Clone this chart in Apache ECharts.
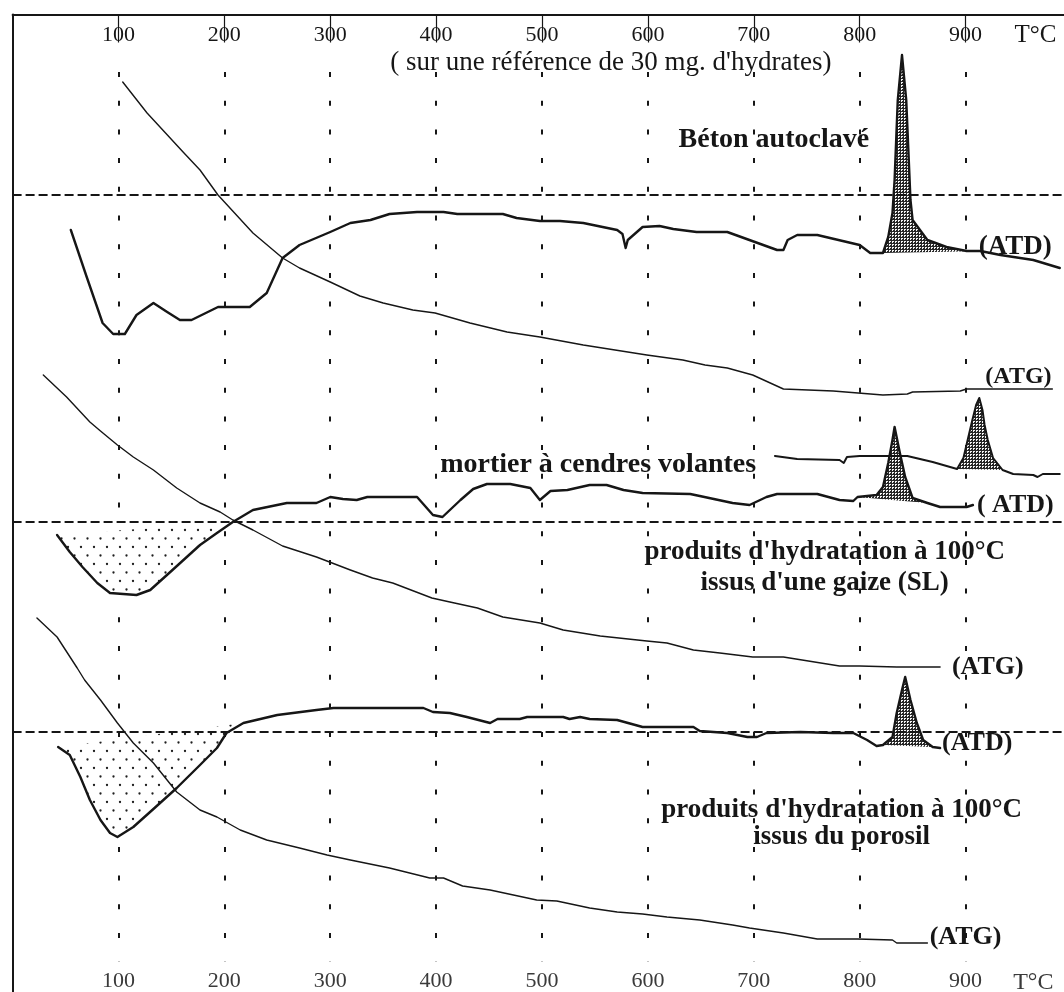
<!DOCTYPE html>
<html lang="fr">
<head>
<meta charset="utf-8">
<title>ATD / ATG</title>
<script src="https://cdn.jsdelivr.net/npm/echarts@6.0.0/dist/echarts.min.js"></script>
<style>
  html, body { margin: 0; padding: 0; background: #ffffff; }
  #chart { width: 1064px; height: 992px; }
</style>
</head>
<body>
<div id="chart"></div>
<script>
// ---------------------------------------------------------------------------
// Data: temperature (°C) against an arbitrary vertical signal scale (u.a.).
// Each trace is a list of [temperature, signal] readings.
// ---------------------------------------------------------------------------
const tempTicks = [100, 200, 300, 400, 500, 600, 700, 800, 900];

// Béton autoclavé
const atgBeton = [[104,91.0],[127,87.9],[161,84.0],[177,82.2],[194,79.7],[227,75.9],[255,73.4],[271,72.4],[300,71.0],[328,69.6],[350,68.9],[378,68.2],[399,67.9],[432,66.9],[467,66.0],[498,65.5],[539,64.7],[599,63.7],[633,63.2],[654,62.7],[675,62.4],[699,61.7],[728,60.3],[775,60.1],[822,59.7],[845,59.8],[850,60.0],[895,60.1],[901,60.3],[982,60.3]];
const atdBeton = [[55,76.2],[70,71.5],[85,66.9],[95,65.8],[106,65.8],[117,67.7],[133,68.9],[146,68.0],[158,67.2],[169,67.2],[194,68.5],[224,68.5],[240,69.9],[255,73.4],[271,74.7],[300,76.0],[319,76.9],[338,77.2],[356,77.8],[382,78.0],[407,78.0],[420,77.8],[463,77.8],[476,77.4],[498,77.1],[517,77.1],[539,76.9],[571,76.2],[576,75.8],[579,74.4],[581,75.2],[595,76.5],[611,76.6],[624,76.3],[646,76.0],[675,76.0],[722,74.2],[728,74.2],[732,75.2],[741,75.7],[760,75.7],[800,74.7],[810,73.9],[822,73.9],[827,75.5],[831,77.9],[833,81.2],[836,89.2],[840,93.7],[844,89.2],[848,79.2],[850,77.2],[864,75.2],[882,74.5],[901,74.1],[914,74.1],[933,73.7],[964,73.2],[989,72.4]];

// Mortier à cendres volantes (branche haute au-delà de 720 °C)
const atdMortier = [[720,53.6],[741,53.3],[781,53.2],[785,52.9],[788,53.5],[800,53.6],[845,53.6],[869,53.0],[892,52.3],[898,53.4],[902,55.2],[906,57.0],[910,58.7],[913,59.4],[916,58.2],[918,56.7],[921,55.2],[926,53.4],[935,52.2],[945,51.8],[964,51.7],[968,51.5],[973,51.8],[989,51.8]];

// Produits d'hydratation à 100 °C issus d'une gaize (SL)
const atdGaize = [[42,45.7],[54,44.0],[66,42.5],[80,40.9],[92,39.9],[117,39.7],[130,40.2],[151,42.2],[177,44.7],[193,45.9],[208,47.0],[227,48.2],[259,48.9],[287,48.9],[300,49.5],[312,49.3],[325,49.2],[335,49.5],[382,49.5],[397,47.7],[406,47.5],[423,49.2],[435,50.3],[448,50.8],[470,50.8],[489,50.4],[498,49.2],[508,50.1],[524,50.2],[545,50.7],[561,50.7],[577,50.2],[595,49.9],[640,49.8],[649,49.6],[680,48.9],[696,48.7],[712,49.5],[722,49.8],[760,49.8],[781,49.2],[794,49.1],[798,49.5],[816,49.7],[822,50.5],[827,52.9],[831,55.2],[833,56.5],[838,53.9],[843,51.5],[850,49.4],[864,48.9],[876,48.5],[901,48.5],[907,48.7]];
const atgGaize = [[29,61.7],[51,59.5],[73,57.0],[83,56.1],[99,54.7],[114,53.5],[133,52.2],[155,50.4],[177,48.9],[196,48.0],[208,47.2],[227,46.2],[255,44.6],[287,43.5],[319,42.2],[340,41.4],[359,40.9],[396,39.4],[413,39.0],[439,38.4],[463,37.5],[498,36.9],[520,36.2],[555,35.6],[599,35.1],[618,34.9],[643,34.2],[668,33.9],[699,33.5],[728,33.5],[781,32.6],[800,32.6],[835,32.5],[876,32.5]];

// Produits d'hydratation à 100 °C issus du porosil
const atdPorosil = [[43,24.5],[54,23.7],[64,21.5],[73,19.2],[83,17.2],[92,15.9],[99,15.5],[114,16.5],[133,18.3],[155,20.4],[177,22.7],[193,24.4],[202,25.9],[218,26.9],[250,27.7],[287,28.2],[303,28.4],[350,28.4],[388,28.4],[397,28.0],[413,27.9],[429,27.5],[451,26.9],[458,27.3],[479,27.3],[486,27.5],[520,27.5],[526,27.3],[536,27.5],[545,27.3],[571,27.2],[595,26.5],[643,26.5],[649,26.1],[675,25.9],[694,25.5],[703,25.5],[712,25.9],[744,26.0],[775,25.9],[794,25.9],[807,25.2],[816,24.6],[822,24.7],[831,25.5],[835,27.9],[840,30.2],[843,31.5],[848,29.2],[854,26.9],[860,25.2],[869,24.5],[876,24.4]];
const atgPorosil = [[23,37.4],[42,35.5],[61,32.4],[68,31.2],[83,29.2],[99,26.9],[114,24.9],[133,22.9],[155,20.0],[177,18.2],[193,17.5],[215,16.2],[240,15.2],[271,14.4],[297,13.7],[319,13.2],[356,12.4],[394,11.4],[407,11.4],[425,10.6],[451,10.2],[495,9.2],[514,9.1],[545,8.4],[571,8.0],[595,7.8],[618,7.5],[649,7.2],[680,6.7],[696,6.4],[728,5.9],[760,5.3],[798,5.3],[831,5.2],[835,4.9],[864,4.9]];

// ATD baselines (signal level of each dashed reference line)
const baselineLevels = [79.7, 47.0, 26.0];

// Shaded peaks: temperature range of each integrated area
const fillAreas = [
  { curve: atdBeton,   from: 822, to: 914, kind: 'hatch' },
  { curve: atdMortier, from: 892, to: 935, kind: 'hatch' },
  { curve: atdGaize,   from: 798, to: 864, kind: 'hatch' },
  { curve: atdPorosil, from: 822, to: 869, kind: 'hatch' },
  { curve: atdGaize,   from: 42,  to: 208, kind: 'dots' },
  { curve: atdPorosil, from: 43,  to: 218, kind: 'dots' }
];

// ---------------------------------------------------------------------------
// Layout and styling
// ---------------------------------------------------------------------------
const SERIF = '"Liberation Serif", "DejaVu Serif", serif';
const INK = '#161616';
const T_MAX = 993;
const Y_MAX = 97.75;

const notes = [
  { text: "( sur une référence de 30 mg. d'hydrates)", at: [565, 92.9], size: 27, weight: 'normal' },
  { text: 'Béton autoclavé', at: [719, 85.2], size: 28, weight: 'bold' },
  { text: '(ATD)', at: [947, 74.5], size: 27, weight: 'bold' },
  { text: '(ATG)', at: [950, 61.5], size: 24, weight: 'bold' },
  { text: 'mortier à cendres volantes', at: [553, 52.7], size: 28, weight: 'bold' },
  { text: '( ATD)', at: [947, 48.7], size: 26, weight: 'bold' },
  { text: "produits d'hydratation à 100°C\nissus d'une gaize (SL)", at: [767, 42.45], size: 27, weight: 'bold', lh: 31 },
  { text: '(ATG)', at: [921, 32.5], size: 26, weight: 'bold' },
  { text: '(ATD)', at: [911, 24.9], size: 26, weight: 'bold' },
  { text: "produits d'hydratation à 100°C\nissus du porosil", at: [783, 16.85], size: 27, weight: 'bold', lh: 27 },
  { text: '(ATG)', at: [900, 5.5], size: 26, weight: 'bold' },
  { text: 'T°C', at: [966, 95.7], size: 25, weight: 'normal' },
  { text: 'T°C', at: [964, 0.9], size: 24, weight: 'normal', color: '#3a3a3a' }
];

function makePattern(w, h, paint) {
  const c = document.createElement('canvas');
  c.width = w; c.height = h;
  paint(c.getContext('2d'));
  return { image: c, repeat: 'repeat' };
}
// dense dark net for exothermic peaks
const hatchFill = makePattern(3, 3, g => {
  g.fillStyle = '#f4f4f4'; g.fillRect(0, 0, 3, 3);
  g.fillStyle = '#262626';
  g.fillRect(0, 0, 3, 1); g.fillRect(0, 0, 1, 3); g.fillRect(2, 2, 1, 1);
});
// staggered dots for endothermic dips
const dotFill = makePattern(13, 17, g => {
  g.fillStyle = '#ffffff'; g.fillRect(0, 0, 13, 17);
  g.fillStyle = '#1e1e1e';
  g.beginPath(); g.arc(3, 3, 1.15, 0, Math.PI * 2); g.fill();
  g.beginPath(); g.arc(9.5, 11.5, 1.15, 0, Math.PI * 2); g.fill();
});

const tickFormatter = v => (tempTicks.indexOf(v) >= 0 ? String(v) : '');

function trace(data, width) {
  return {
    type: 'line', xAxisIndex: 0, yAxisIndex: 0, data: data,
    showSymbol: false, symbol: 'none', silent: true, z: 3,
    lineStyle: { color: INK, width: width, join: 'round', cap: 'round' }
  };
}

const option = {
  animation: false,
  backgroundColor: '#ffffff',
  grid: [
    { left: 12.6, right: 0, top: 14.5, bottom: 0 },
    { left: 12.6, right: 0, top: 72, bottom: 30 }
  ],
  xAxis: [
    {
      gridIndex: 0, type: 'value', position: 'top', min: 0, max: T_MAX, interval: 100,
      axisLine: { show: true, onZero: false, lineStyle: { color: INK, width: 2 } },
      axisTick: { show: true, inside: true, length: 28, customValues: tempTicks, lineStyle: { color: INK, width: 1.2 } },
      axisLabel: { inside: true, margin: 10, customValues: tempTicks, fontFamily: SERIF, fontSize: 22, color: INK, formatter: tickFormatter },
      splitLine: { show: false }
    },
    {
      gridIndex: 0, type: 'value', position: 'bottom', min: 0, max: T_MAX, interval: 100,
      axisLine: { show: false, onZero: false },
      axisTick: { show: false },
      axisLabel: { inside: true, margin: 0, customValues: tempTicks, fontFamily: SERIF, fontSize: 22, color: '#3a3a3a', formatter: tickFormatter },
      splitLine: { show: false }
    },
    {
      gridIndex: 1, type: 'value', min: 0, max: T_MAX, interval: 100,
      axisLine: { show: false, onZero: false }, axisTick: { show: false }, axisLabel: { show: false },
      splitLine: { show: true, showMinLine: false, showMaxLine: false, lineStyle: { color: INK, width: 2, type: [5, 23.7] } }
    }
  ],
  yAxis: [
    {
      gridIndex: 0, type: 'value', min: 0, max: Y_MAX,
      axisLine: { show: true, onZero: false, lineStyle: { color: INK, width: 2 } },
      axisTick: { show: false }, axisLabel: { show: false }, splitLine: { show: false }
    },
    {
      gridIndex: 1, type: 'value', min: 0, max: 1, show: false
    }
  ],
  series: [
    // shaded areas under peaks and dips
    {
      type: 'custom', xAxisIndex: 0, yAxisIndex: 0, z: 1, silent: true,
      data: fillAreas.map((f, i) => [i, 0]),
      renderItem: (params, api) => {
        const f = fillAreas[params.dataIndex];
        const pts = f.curve.filter(p => p[0] >= f.from && p[0] <= f.to).map(p => api.coord(p));
        return {
          type: 'polygon',
          shape: { points: pts },
          style: { fill: f.kind === 'hatch' ? hatchFill : dotFill, stroke: null }
        };
      }
    },
    // dashed ATD baselines
    ...baselineLevels.map(level => ({
      type: 'line', xAxisIndex: 0, yAxisIndex: 0, silent: true, z: 2,
      showSymbol: false, symbol: 'none',
      data: [[0, level], [T_MAX, level]],
      lineStyle: { color: INK, width: 2, type: [9, 4] }
    })),
    trace(atgBeton, 1.4),
    trace(atdBeton, 2.4),
    trace(atdMortier, 2.0),
    trace(atdGaize, 2.4),
    trace(atgGaize, 1.4),
    trace(atdPorosil, 2.4),
    trace(atgPorosil, 1.4),
    // text annotations
    {
      type: 'custom', xAxisIndex: 0, yAxisIndex: 0, z: 5, silent: true,
      data: notes.map((n, i) => [i, 0]),
      renderItem: (params, api) => {
        const n = notes[params.dataIndex];
        const p = api.coord(n.at);
        return {
          type: 'text', x: p[0], y: p[1],
          style: {
            text: n.text,
            font: n.weight + ' ' + n.size + 'px ' + SERIF,
            fill: n.color || INK,
            align: 'center', verticalAlign: 'middle',
            textAlign: 'center', textVerticalAlign: 'middle',
            lineHeight: n.lh || n.size
          }
        };
      }
    }
  ]
};

const chart = echarts.init(document.getElementById('chart'));
chart.setOption(option);
</script>
</body>
</html>
